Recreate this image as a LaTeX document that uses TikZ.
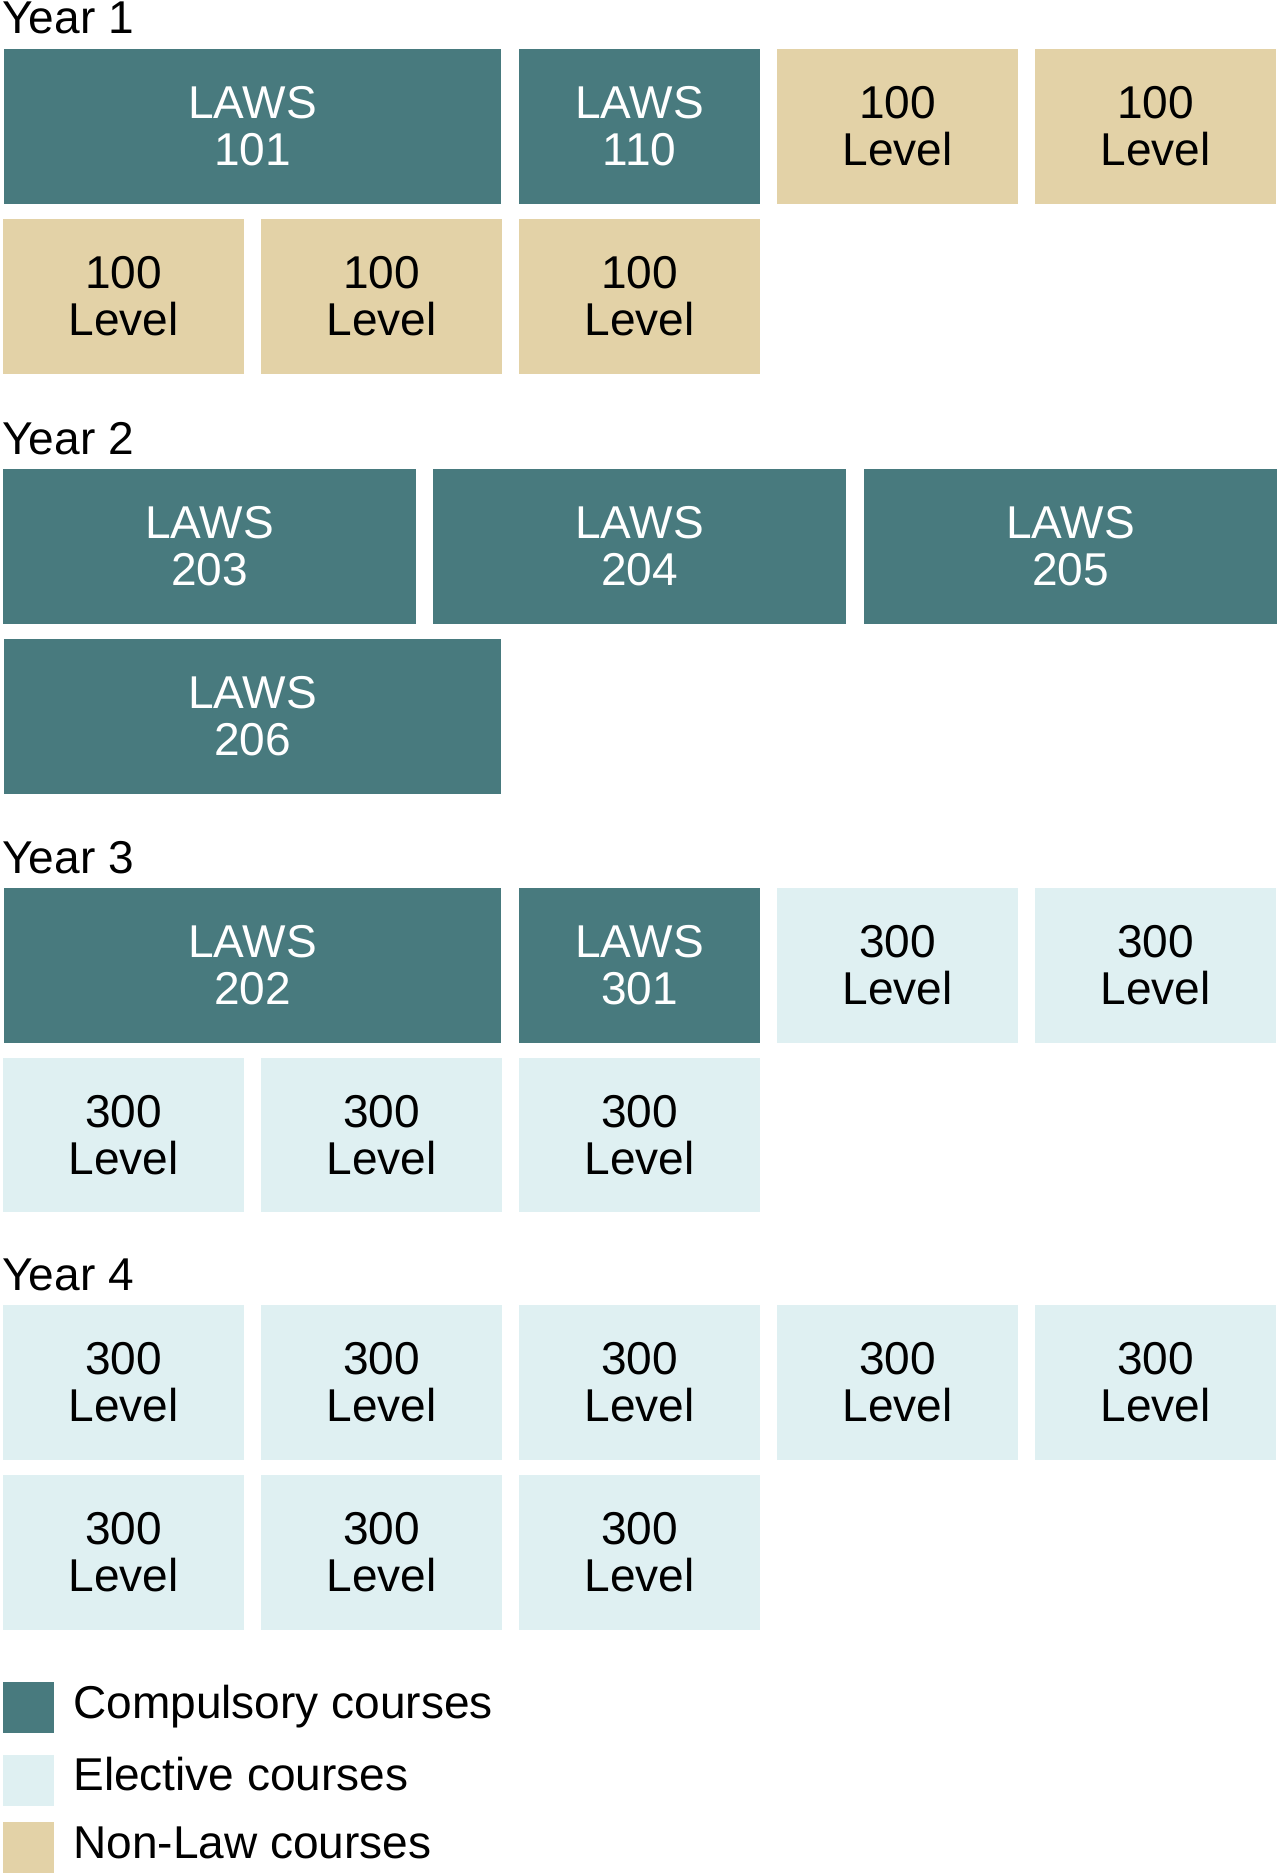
\documentclass[tikz,border=0pt]{standalone}
\usepackage{fontspec}
\setmainfont{Liberation Sans}
\usepackage{xcolor}
\usepackage{tikz}
\definecolor{coreteal}{RGB}{72, 122, 126}
\definecolor{electiveblue}{RGB}{223, 240, 242}
\definecolor{nonlawtan}{RGB}{227, 210, 167}
\usetikzlibrary{positioning}

\begin{document}
\begin{tikzpicture}[
    x=0.02cm, y=-0.02cm,
    box/.style={rectangle, inner sep=0pt, minimum width=4.82cm, minimum height=3.1cm, align=center, font=\fontsize{26.2}{26.75}\selectfont},
    core/.style={box, fill=coreteal, text=white},
    elective/.style={box, fill=electiveblue},
    nonlaw/.style={box, fill=nonlawtan},
    wide/.style={minimum width=9.96cm},
    third/.style={minimum width=8.26cm},
    year/.style={anchor=base west, inner sep=0pt, font=\fontsize{26.2}{26.75}\selectfont},
    key/.style={rectangle, inner sep=0pt, minimum size=1.02cm},
    keytext/.style={anchor=base west, inner sep=0pt, font=\fontsize{26.2}{26.75}\selectfont}
]
    \useasboundingbox (0,0) rectangle (1280,1875);

    % Year 1
    \node[year] (y1) at (2,34) {Year 1};
    \node[core, wide] (l101) at (252.5,126.5) {LAWS\\101};
    \node[core] (l110) at (639.5,126.5) {LAWS\\110};
    \node[nonlaw] (n1a) at (897.5,126.5) {100\\Level};
    \node[nonlaw] (n1b) at (1155.5,126.5) {100\\Level};
    \node[nonlaw] (n1c) at (123.5,296.5) {100\\Level};
    \node[nonlaw] (n1d) at (381.5,296.5) {100\\Level};
    \node[nonlaw] (n1e) at (639.5,296.5) {100\\Level};

    % Year 2
    \node[year] (y2) at (2,454) {Year 2};
    \node[core, third] (l203) at (209.5,546.5) {LAWS\\203};
    \node[core, third] (l204) at (639.5,546.5) {LAWS\\204};
    \node[core, third] (l205) at (1070.5,546.5) {LAWS\\205};
    \node[core, wide] (l206) at (252.5,716.5) {LAWS\\206};

    % Year 3
    \node[year] (y3) at (2,873) {Year 3};
    \node[core, wide] (l202) at (252.5,965.5) {LAWS\\202};
    \node[core] (l301) at (639.5,965.5) {LAWS\\301};
    \node[elective] (e3a) at (897.5,965.5) {300\\Level};
    \node[elective] (e3b) at (1155.5,965.5) {300\\Level};
    \node[elective] (e3c) at (123.5,1135) {300\\Level};
    \node[elective] (e3d) at (381.5,1135) {300\\Level};
    \node[elective] (e3e) at (639.5,1135) {300\\Level};

    % Year 4
    \node[year] (y4) at (2,1290) {Year 4};
    \node[elective] (e4a) at (123.5,1382.5) {300\\Level};
    \node[elective] (e4b) at (381.5,1382.5) {300\\Level};
    \node[elective] (e4c) at (639.5,1382.5) {300\\Level};
    \node[elective] (e4d) at (897.5,1382.5) {300\\Level};
    \node[elective] (e4e) at (1155.5,1382.5) {300\\Level};
    \node[elective] (e4f) at (123.5,1552) {300\\Level};
    \node[elective] (e4g) at (381.5,1552) {300\\Level};
    \node[elective] (e4h) at (639.5,1552) {300\\Level};

    % Legend
    \node[key, fill=coreteal] (kcore) at (28.5,1707.5) {};
    \node[keytext] (tcore) at (73,1718) {Compulsory courses};
    \node[key, fill=electiveblue] (kelective) at (28.5,1780.5) {};
    \node[keytext] (telective) at (73,1790) {Elective courses};
    \node[key, fill=nonlawtan] (knonlaw) at (28.5,1847.5) {};
    \node[keytext] (tnonlaw) at (73,1858) {Non-Law courses};

\end{tikzpicture}
\end{document}
